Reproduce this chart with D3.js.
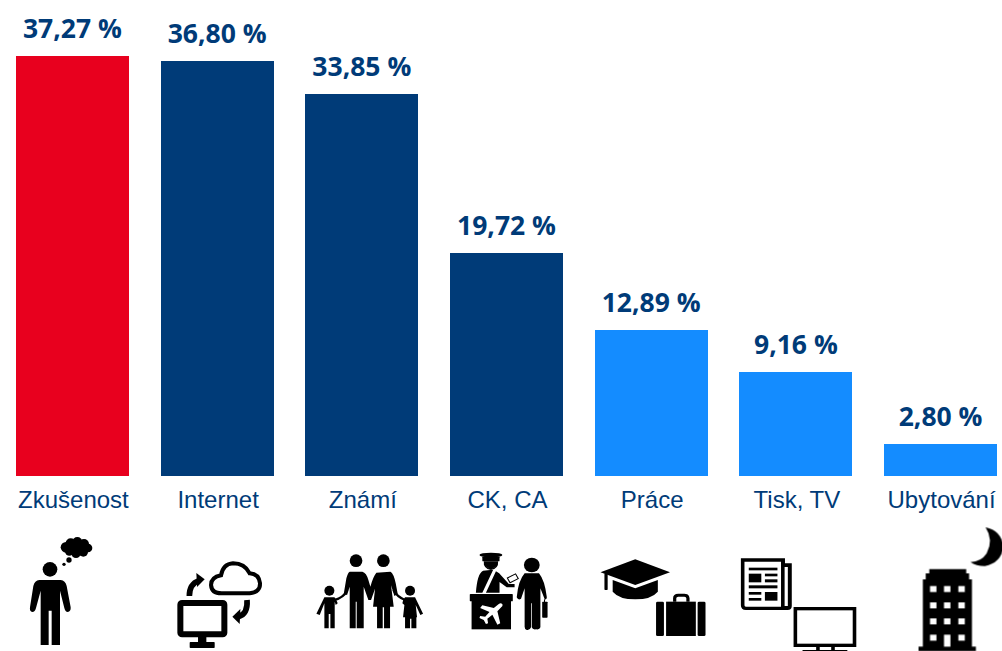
<!DOCTYPE html>
<html><head><meta charset="utf-8">
<script src="https://cdnjs.cloudflare.com/ajax/libs/d3/7.8.5/d3.min.js"></script>
<style>html,body{margin:0;padding:0;background:#fff;overflow:hidden}svg{display:block}</style>
</head><body><svg id="c" width="1002" height="651"></svg>
<script>
const categories = ["Zkušenost","Internet","Známí","CK, CA","Práce","Tisk, TV","Ubytování"];
const values = [37.27,36.80,33.85,19.72,12.89,9.16,2.80];
const valueLabels = ["37,27 %","36,80 %","33,85 %","19,72 %","12,89 %","9,16 %","2,80 %"];
const barColors = ["#e8001e","#003b78","#003b78","#003b78","#148cff","#148cff","#148cff"];
const iconOrigins = [48,483,915,28,432,834,1239];
const iconScalesX = [1/3,1/3,1/3,1/2.79,1/2.79,1/2.79,1/2.79];

const svg = d3.select("#c");
const x = d3.scaleBand().domain(categories).range([16,997]).paddingInner(0.22).paddingOuter(0);
const y = d3.scaleLinear().domain([0,37.27]).range([476,56]);
const bx = d=>Math.round(x(d)), by = v=>Math.floor(y(v));

svg.selectAll("rect.bar").data(categories).join("rect").attr("class","bar")
  .attr("x",d=>bx(d)).attr("width",Math.round(x.bandwidth()))
  .attr("y",(d,i)=>by(values[i])).attr("height",(d,i)=>y(0)-by(values[i]))
  .attr("fill",(d,i)=>barColors[i]);

svg.selectAll("text.val").data(categories).join("text").attr("class","val")
  .attr("x",d=>x(d)+x.bandwidth()/2).attr("y",(d,i)=>by(values[i])-18)
  .attr("text-anchor","middle").attr("fill","#003b78")
  .style("font","700 26.5px 'Open Sans'").text((d,i)=>valueLabels[i]);

const ax = svg.append("g").attr("transform","translate(1,476)")
  .call(d3.axisBottom(x).tickSize(0).tickPadding(10));
ax.select(".domain").remove();
ax.selectAll("text").attr("fill","#003b78").attr("dy",null).attr("y",32)
  .style("font","24px 'Liberation Sans'");

const defs = svg.append("defs");
defs.append("filter").attr("id","soft").append("feGaussianBlur").attr("stdDeviation",0.35);

const K="#000", W="#fff";
const P=(g,d,f=K)=>g.append("path").attr("d",d).attr("fill",f);
const C=(g,cx,cy,r,f=K)=>g.append("circle").attr("cx",cx).attr("cy",cy).attr("r",r).attr("fill",f);
const R=(g,a,b,w,h,f=K,rx=0)=>g.append("rect").attr("x",a).attr("y",b).attr("width",w).attr("height",h).attr("fill",f).attr("rx",rx);
const S=(g,d,sw,s=K)=>g.append("path").attr("d",d).attr("fill","none").attr("stroke",s).attr("stroke-width",sw).attr("stroke-linecap","round").attr("stroke-linejoin","round");

const icons = [
 g=>{ // thinking person
  C(g,150,148,22);
  P(g,"M118 180H182Q196 182 200 198L212 262Q213 275 203 276Q196 276 193 264L180 212V375H155V272H146V375H122V212L108 264Q105 276 97 276Q88 274 90 262L100 198Q104 182 118 180Z");
  [[198,82,16],[212,70,15],[232,66,15],[252,72,15],[264,84,13],[250,96,14],[228,100,14],[208,94,13],[230,82,20]].forEach(c=>C(g,...c));
  C(g,207,120,8);C(g,192,133,5);
 },
 g=>{ // monitor and cloud
  g.append("path").attr("d","M665 220H750Q782 216 781 190Q778 162 750 160Q735 130 700 130Q670 132 664 166Q634 172 634 195Q636 220 665 220Z").attr("fill",W).attr("stroke",K).attr("stroke-width",12);
  g.append("rect").attr("x",542).attr("y",249).attr("width",132).attr("height",94).attr("rx",5).attr("fill",W).attr("stroke",K).attr("stroke-width",18);
  R(g,595,350,25,18);R(g,570,366,75,18,K,2);
  g.append("path").attr("d","M569 228Q569 192 598 182").attr("fill","none").attr("stroke",K).attr("stroke-width",17);
  P(g,"M590 159L615 178L592 201Z");
  g.append("path").attr("d","M742 240Q745 282 716 290").attr("fill","none").attr("stroke",K).attr("stroke-width",17);
  P(g,"M722 267L698 290L720 312Z");
 },
 g=>{ // family
  C(g,1067,122,19);C(g,1149,122,19);C(g,987,212,15);C(g,1229,212,15);
  P(g,"M1048 155H1086Q1098 158 1104 180L1110 200Q1118 170 1128 158L1170 155Q1180 160 1186 190L1192 222L1182 228L1172 196L1180 260H1169V325H1151V262H1147V325H1130V260H1118L1124 206L1112 240H1104L1090 200V325H1069V245H1066V325H1048V200L1040 225L1030 222L1038 175Q1042 158 1048 155Z");
  S(g,"M1040 212Q1030 232 1002 240",7);S(g,"M1180 212Q1192 232 1214 240",7);
  P(g,"M972 232H1002Q1008 236 1012 250L1006 255L1003 245V325H990V282H985V325H972V250L958 285L948 281Z");
  P(g,"M1214 232H1244L1268 281L1260 285L1246 255L1250 292H1248V325H1233V296H1229V325H1214V292H1208L1212 255L1206 250Q1208 238 1214 232Z");
 },
 g=>{ // check-in desk
  g.append("ellipse").attr("cx",142).attr("cy",105).attr("rx",32).attr("ry",7).attr("fill",K);
  R(g,118,110,48,14,K,2);
  P(g,"M122 124H162Q164 146 142 150Q120 146 122 124Z");
  P(g,"M128 138Q142 154 156 138Q150 146 142 146Q134 146 128 138Z",W);
  P(g,"M120 152Q104 160 100 218H118L148 150H140ZM156 154L128 218H166V186L186 202H208V192H192L165 160Z");
  g.append("rect").attr("x",190).attr("y",167).attr("width",26).attr("height",16).attr("transform","rotate(-28 203 175)").attr("fill",W).attr("stroke",K).attr("stroke-width",3);
  R(g,83,222,120,22,K,2);R(g,88,240,110,88);
  P(g,"M168 250Q176 250 174 258L160 274L168 310L160 314L146 284L132 296L134 310L128 312L122 300L110 294L112 288L126 290L138 276L112 264L118 256L150 264L164 252Z",W);
  C(g,256,135,22);
  P(g,"M236 160H276Q292 180 298 232Q298 240 292 238L280 205V322Q278 330 268 328Q258 330 256 322V250H254V322Q250 332 242 330Q236 328 236 320V205L226 236Q218 242 214 232Q218 182 236 160Z");
  R(g,285,245,15,48,K,2);
  R(g,290,238,3,8);
 },
 g=>{ // graduation cap and case
  P(g,"M448 157L545 118L642 157L545 195Z");
  R(g,459,160,9,50,K,2);
  P(g,"M482 180L545 205L608 180V215Q590 238 545 238Q500 238 482 215Z");
  R(g,603,245,22,103,K,4);R(g,631,245,83,103);R(g,719,245,22,103,K,4);
  g.append("path").attr("d","M655 245V235Q655 226 665 226H682Q692 226 692 235V245").attr("fill","none").attr("stroke",K).attr("stroke-width",9);
 },
 g=>{ // newspaper and tv
  P(g,"M838 115H961V130H980V258Q980 270 968 270H852Q838 270 838 256ZM848 125V256Q848 260 852 260H950V125ZM960 141V258H969V141Z");
  [[860,143,80,8],[860,161,35,26],[905,161,35,8],[905,178,35,9],[860,196,80,9],[860,216,35,8],[860,234,35,8],[905,216,35,26]].forEach(r=>R(g,...r));
  g.append("rect").attr("x",990).attr("y",266).attr("width",165).attr("height",110).attr("fill",W).attr("stroke",K).attr("stroke-width",10);
  R(g,1048,380,10,12);R(g,1090,380,10,12);R(g,1010,390,125,6);
 },
 g=>{ // hotel and moon
  P(g,"M1365 147H1468V160H1476V178H1484V380H1495V393H1335V380H1347V178H1355V160H1365Z");
  [207,256,304,353].forEach(wy=>[1376,1415,1455].forEach(wx=>{
    if(!(wy===353&&wx===1415)) R(g,wx-9,wy-9,18,18,W);
  }));
  R(g,1406,344,18,36,W);
  P(g,"M1522 22Q1565 30 1572 80Q1565 130 1520 138Q1495 138 1480 126Q1510 125 1525 100Q1545 60 1522 22Z");
 }
];
const iconG = svg.append("g").attr("filter","url(#soft)");
categories.forEach((d,i)=>{
  const g = iconG.append("g").attr("transform",`translate(${x(d)},520) scale(${iconScalesX[i]},${1/3}) translate(${-iconOrigins[i]},0)`);
  icons[i](g);
});
</script></body></html>
